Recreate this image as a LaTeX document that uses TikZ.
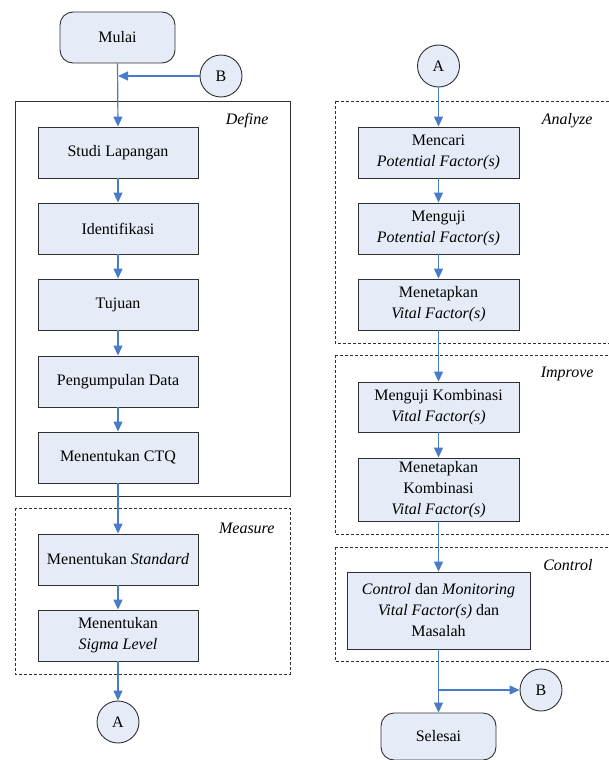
\documentclass[tikz,border=0pt]{standalone}
\usepackage{fontspec}
\setmainfont{Liberation Serif}
\usetikzlibrary{arrows.meta}
\definecolor{boxfill}{HTML}{E6ECF7}
\definecolor{arrowc}{HTML}{4A7BC8}
\definecolor{edgec}{HTML}{303030}
\begin{document}
\begin{tikzpicture}[x=1pt,y=-1pt,
  every node/.style={font=\fontsize{16}{21}\selectfont},
  proc/.style={draw=edgec,line width=0.9pt,fill=boxfill,rectangle,align=center,inner sep=0pt},
  term/.style={draw=edgec,line width=0.9pt,fill=boxfill,rectangle,rounded corners=13pt,align=center,inner sep=0pt,minimum width=115pt},
  conn/.style={draw=edgec,line width=0.9pt,fill=boxfill,circle,inner sep=0pt,minimum size=42pt},
  flow/.style={draw=arrowc,line width=1.2pt,-{Triangle[length=10pt,width=9pt]}},
  phase/.style={draw=edgec,line width=0.8pt},
  phased/.style={draw=edgec,line width=0.8pt,dash pattern=on 3pt off 2pt},
  plabel/.style={anchor=east,font=\fontsize{16}{21}\selectfont\itshape}
]
\useasboundingbox (0,0) rectangle (608,760);

% phase frames
\draw[phase] (15,101) rectangle (290,496);
\draw[phased] (15,508) rectangle (290,674);
\draw[phased] (335,101) rectangle (620,343);
\draw[phased] (335,355) rectangle (620,534);
\draw[phased] (335,547) rectangle (620,661);

\node[plabel] (lDefine) at (272,121) {Define};
\node[plabel] (lMeasure) at (278,528) {Measure};
\node[plabel] (lAnalyze) at (596,121) {Analyze};
\node[plabel] (lImprove) at (597,374) {Improve};
\node[plabel] (lControl) at (596,565) {Control};

% left column
\node[term,minimum height=51pt] (mulai) at (117.5,37.5) {Mulai};
\node[conn] (B1) at (221,76) {B};
\coordinate (m1) at (118,76);
\node[proc,minimum width=160pt,minimum height=51pt] (s1) at (118,152.5) {Studi Lapangan};
\node[proc,minimum width=160pt,minimum height=51pt] (s2) at (118,228.5) {Identifikasi};
\node[proc,minimum width=160pt,minimum height=51pt] (s3) at (118,304.5) {Tujuan};
\node[proc,minimum width=160pt,minimum height=51pt] (s4) at (118,381.5) {Pengumpulan Data};
\node[proc,minimum width=160pt,minimum height=51pt] (s5) at (118,457.5) {Menentukan CTQ};
\node[proc,minimum width=160pt,minimum height=51pt] (s6) at (118,559.5) {Menentukan \textit{Standard}};
\node[proc,minimum width=160pt,minimum height=51pt] (s7) at (118,635.5) {Menentukan\\\textit{Sigma Level}};
\node[conn] (A1) at (118,722) {A};

% right column
\node[conn] (A2) at (438.5,66) {A};
\node[proc,minimum width=161pt,minimum height=51pt] (r1) at (438.5,152.5) {Mencari\\\textit{Potential Factor(s)}};
\node[proc,minimum width=161pt,minimum height=51pt] (r2) at (438.5,228.5) {Menguji\\\textit{Potential Factor(s)}};
\node[proc,minimum width=161pt,minimum height=51pt] (r3) at (438.5,304.5) {Menetapkan\\\textit{Vital Factor(s)}};
\node[proc,minimum width=161pt,minimum height=50pt] (r4) at (438.5,407) {Menguji Kombinasi\\\textit{Vital Factor(s)}};
\node[proc,minimum width=161pt,minimum height=63pt] (r5) at (438.5,489.5) {Menetapkan\\Kombinasi\\\textit{Vital Factor(s)}};
\node[proc,minimum width=183pt,minimum height=77pt] (r6) at (438.5,610.5) {\textit{Control} dan \textit{Monitoring}\\\textit{Vital Factor(s)} dan\\Masalah};
\coordinate (m2) at (438.5,690);
\node[conn] (B2) at (541,690) {B};
\node[term,minimum height=47pt] (selesai) at (438.5,736.5) {Selesai};

% connectors
\draw[flow] (mulai.south) -- (s1.north);
\draw[flow] (B1.west) -- (m1);
\draw[flow] (s1) -- (s2);
\draw[flow] (s2) -- (s3);
\draw[flow] (s3) -- (s4);
\draw[flow] (s4) -- (s5);
\draw[flow] (s5) -- (s6);
\draw[flow] (s6) -- (s7);
\draw[flow] (s7) -- (A1);

\draw[flow] (A2) -- (r1);
\draw[flow] (r1) -- (r2);
\draw[flow] (r2) -- (r3);
\draw[flow] (r3) -- (r4);
\draw[flow] (r4) -- (r5);
\draw[flow] (r5) -- (r6);
\draw[flow] (r6) -- (selesai);
\draw[flow] (m2) -- (B2.west);
\end{tikzpicture}
\end{document}
